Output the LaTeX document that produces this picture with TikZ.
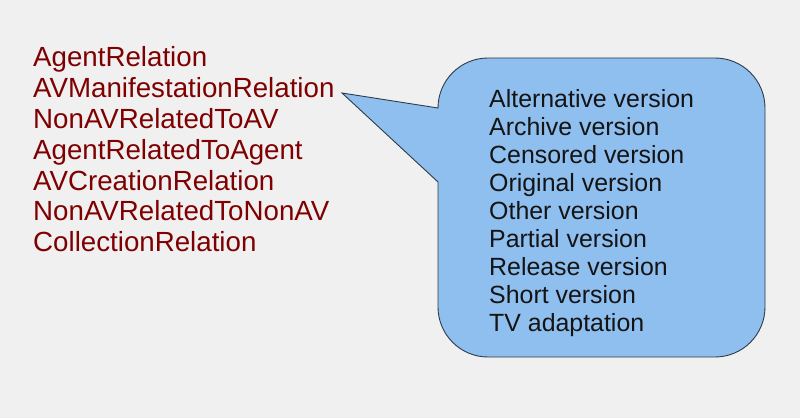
\documentclass[tikz,border=0pt]{standalone}
\usepackage{fontspec}
\setmainfont{Liberation Sans}
\definecolor{bgc}{HTML}{F0F0F0}
\definecolor{darkred}{HTML}{7F0000}
\definecolor{calloutfill}{HTML}{8FBFEF}
\definecolor{calloutline}{HTML}{2E3B4A}
\definecolor{callouttext}{HTML}{141414}
\tikzset{
  reltext/.style={anchor=base west, inner sep=0pt, text=darkred, font=\fontsize{27.7}{31}\selectfont},
  vertext/.style={anchor=base west, inner sep=0pt, text=callouttext, font=\fontsize{24.9}{28}\selectfont},
  callout/.style={fill=calloutfill, draw=calloutline, line width=0.9pt, line join=miter}
}
\begin{document}
\begin{tikzpicture}[x=1pt,y=1pt]
\fill[bgc] (0,0) rectangle (800,418);
\useasboundingbox (0,0) rectangle (800,418);
% left list
\foreach \t [count=\i] in {AgentRelation,AVManifestationRelation,NonAVRelatedToAV,AgentRelatedToAgent,AVCreationRelation,NonAVRelatedToNonAV,CollectionRelation}
  \node[reltext] (rel\i) at (33,{351.3-30.85*(\i-1)}) {\t};
% callout shape
\coordinate (tip) at (342,325);
\draw[callout] (438,310) -- (tip) -- (438,236) -- (438,111)
  arc[start angle=180,end angle=270,radius=50] -- (715,61)
  arc[start angle=270,end angle=360,radius=50] -- (765,310)
  arc[start angle=0,end angle=90,radius=50] -- (488,360)
  arc[start angle=90,end angle=180,radius=50] -- cycle;
% callout text
\foreach \t [count=\i] in {Alternative version,Archive version,Censored version,Original version,Other version,Partial version,Release version,Short version,TV adaptation}
  \node[vertext] (ver\i) at (489,{310.8-28.05*(\i-1)}) {\t};
\end{tikzpicture}
\end{document}
